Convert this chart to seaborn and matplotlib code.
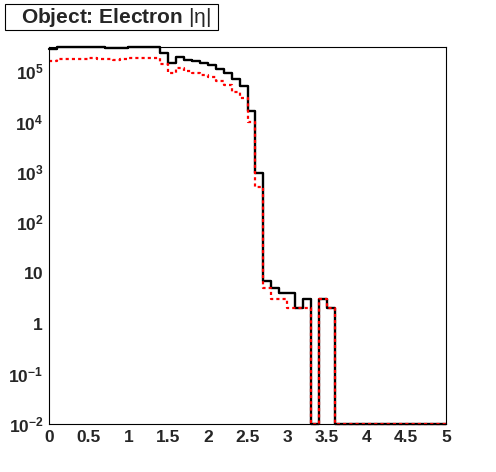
import numpy as np
import matplotlib
matplotlib.use("Agg")
import matplotlib.pyplot as plt
import matplotlib.ticker as mticker
from matplotlib.patches import Rectangle
import seaborn as sns

# |eta| bins, 0.1 wide from 0 to 5
bin_edges = np.round(np.arange(0, 5.01, 0.1), 2)

# black (solid) histogram, counts per bin
all_counts = [
    2.75e5, 2.95e5, 2.95e5, 2.95e5, 2.95e5, 3.05e5, 3.05e5, 2.9e5, 2.9e5, 2.9e5,
    3.05e5, 3.05e5, 3.05e5, 3.05e5, 2.27e5, 1.45e5, 1.89e5, 1.69e5, 1.57e5, 1.47e5,
    1.29e5, 1.11e5, 9.1e4, 7.0e4, 5.0e4, 1.64e4, 940, 7, 5, 4,
    4, 2, 3, 0, 3, 2, 0, 0, 0, 0,
    0, 0, 0, 0, 0, 0, 0, 0, 0, 0,
]

# red (dashed) histogram
sel_counts = [
    1.61e5, 1.75e5, 1.70e5, 1.72e5, 1.70e5, 1.85e5, 1.75e5, 1.70e5, 1.67e5, 1.70e5,
    1.83e5, 1.85e5, 1.83e5, 1.83e5, 1.35e5, 9.1e4, 1.16e5, 1.02e5, 9.3e4, 8.5e4,
    7.6e4, 6.3e4, 5.2e4, 3.8e4, 2.9e4, 9.7e3, 510, 5, 3, 3,
    2, 2, 2, 0, 3, 2, 0, 0, 0, 0,
    0, 0, 0, 0, 0, 0, 0, 0, 0, 0,
]

x_ticks = [0, 0.5, 1, 1.5, 2, 2.5, 3, 3.5, 4, 4.5, 5]
x_tick_labels = ["0", "0.5", "1", "1.5", "2", "2.5", "3", "3.5", "4", "4.5", "5"]
y_ticks = [1e-2, 1e-1, 1, 10, 1e2, 1e3, 1e4, 1e5]
y_tick_labels = [r"$\mathbf{10^{-2}}$", r"$\mathbf{10^{-1}}$", r"$\mathbf{1}$", r"$\mathbf{10}$",
                 r"$\mathbf{10^{2}}$", r"$\mathbf{10^{3}}$", r"$\mathbf{10^{4}}$", r"$\mathbf{10^{5}}$"]

y_min, y_max = 1e-2, 3.0e5

sns.set_style("white")
plt.rcParams["font.family"] = ["Liberation Sans", "DejaVu Sans"]
plt.rcParams["mathtext.fontset"] = "custom"
plt.rcParams["mathtext.rm"] = "Liberation Sans"
plt.rcParams["mathtext.it"] = "Liberation Sans:italic"
plt.rcParams["mathtext.bf"] = "Liberation Sans:bold"


def step_values(counts):
    # empty bins sit on the bottom of the frame, as in a log-scale ROOT plot
    vals = np.array(counts, dtype=float)
    vals = np.where(vals > 0, vals, y_min)
    return np.append(vals, vals[-1])


fig = plt.figure(figsize=(4.96, 4.72), dpi=100)
ax = fig.add_axes([49 / 496, 48 / 472, 397 / 496, 377 / 472])
ax.set_yscale("log")

sns.lineplot(x=bin_edges, y=step_values(all_counts), drawstyle="steps-post",
             estimator=None, sort=False, color="black", linewidth=1.7,
             clip_on=False, ax=ax)
sns.lineplot(x=bin_edges, y=step_values(sel_counts), drawstyle="steps-post",
             estimator=None, sort=False, color="#ff0000", linewidth=1.6,
             linestyle=(0, (1.4, 1.4)), clip_on=False, ax=ax)

ax.set_xlim(0, 5)
ax.set_ylim(y_min, y_max)
ax.set_xlabel("")
ax.set_ylabel("")

ax.set_xticks(x_ticks)
ax.set_xticklabels(x_tick_labels, fontweight="bold", fontsize=12.5)
ax.xaxis.set_minor_locator(mticker.MultipleLocator(0.1))
ax.set_yticks(y_ticks)
ax.set_yticklabels(y_tick_labels, fontsize=12.5)
ax.yaxis.set_minor_locator(mticker.LogLocator(base=10, subs=np.arange(2, 10), numticks=20))
ax.yaxis.set_minor_formatter(mticker.NullFormatter())

ax.tick_params(which="major", direction="in", length=8, width=0.8, color="black", pad=4)
ax.tick_params(which="minor", direction="in", length=4.3, width=0.8, color="black")
ax.tick_params(axis="x", pad=4)
for side in ax.spines.values():
    side.set_color("black")
    side.set_linewidth(0.8)

# title box in the top-left corner
fig.patches.append(Rectangle((5 / 496, 1 - 30 / 472), 213 / 496, 26 / 472,
                             transform=fig.transFigure, facecolor="white",
                             edgecolor="black", linewidth=0.8))
fig.text(21 / 496, 1 - 17.5 / 472, r"Object: Electron $\mathrm{|\eta|}$", fontsize=15,
         fontweight="bold", ha="left", va="center")

fig.savefig("out.png", dpi=100)
